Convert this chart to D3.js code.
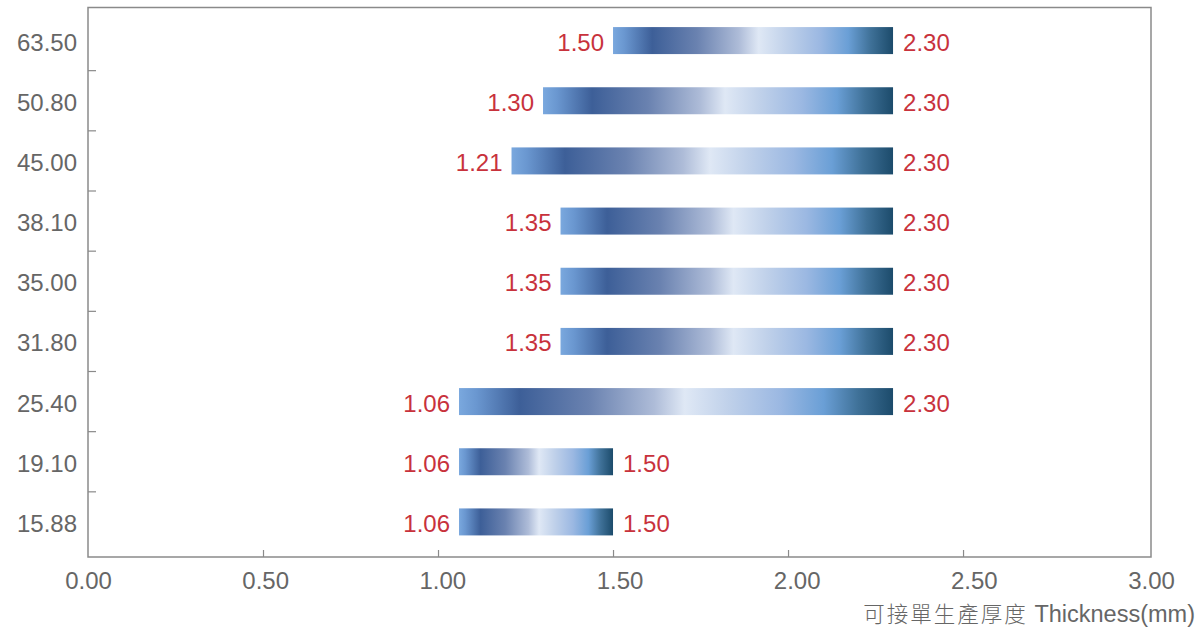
<!DOCTYPE html>
<html>
<head>
<meta charset="utf-8">
<script src="https://cdn.jsdelivr.net/npm/d3@7"></script>
<style>
  html, body { margin: 0; padding: 0; background: #fff; }
  svg { display: block; }
</style>
</head>
<body>
<svg id="chart" width="1201" height="633"></svg>
<script>
const categories = ["63.50", "50.80", "45.00", "38.10", "35.00", "31.80", "25.40", "19.10", "15.88"];
const minThickness = [1.50, 1.30, 1.21, 1.35, 1.35, 1.35, 1.06, 1.06, 1.06];
const maxThickness = [2.30, 2.30, 2.30, 2.30, 2.30, 2.30, 2.30, 1.50, 1.50];
const xTickValues = [0.5, 1.0, 1.5, 2.0, 2.5];
const xTickLabels = [0, 0.5, 1.0, 1.5, 2.0, 2.5, 3.0];
const axisTitleCJK = "可接單生產厚度";
const axisTitleLatin = " Thickness(mm)";

const svg = d3.select("#chart");
const box = { left: 88, right: 1151, top: 7.5, bottom: 557 };
const FONT = "'Liberation Sans', Arial, sans-serif";

const x = d3.scaleLinear().domain([0, 3.037]).range([box.left, box.right]);
const xLabel = d3.scaleLinear().domain([0, 3]).range([box.left, box.right]);
const y = d3.scaleBand().domain(categories).range([10.5, 552]).paddingInner(0).paddingOuter(0);
const barH = 27;

// gradient
const defs = svg.append("defs");
const grad = defs.append("linearGradient").attr("id", "barGrad")
  .attr("x1", "0%").attr("x2", "100%").attr("y1", "0%").attr("y2", "0%");
[
  [0, "#7aa8de"], [0.04, "#6a97d0"], [0.14, "#3d5f98"], [0.30, "#6a82b0"],
  [0.45, "#aebcd8"], [0.52, "#dfe8f5"], [0.62, "#c0d1ea"], [0.74, "#9bb8e2"],
  [0.84, "#6a9fd6"], [0.92, "#3f7198"], [1, "#1c4b6b"]
].forEach(([o, c]) => grad.append("stop").attr("offset", o).attr("stop-color", c));

// frame
svg.append("rect")
  .attr("x", box.left).attr("y", box.top)
  .attr("width", box.right - box.left).attr("height", box.bottom - box.top)
  .attr("fill", "none").attr("stroke", "#8a8a8a").attr("stroke-width", 1.5);

// x axis ticks (inner)
const xAxisTicks = svg.append("g").attr("transform", `translate(0,${box.bottom})`)
  .call(d3.axisBottom(x).tickValues(xTickValues).tickSize(-7).tickFormat(""));
xAxisTicks.select(".domain").remove();
xAxisTicks.selectAll("line").attr("stroke", "#8a8a8a").attr("stroke-width", 1.2);

// x axis labels
const xAxisLabels = svg.append("g").attr("transform", `translate(0,${box.bottom})`)
  .call(d3.axisBottom(xLabel).tickValues(xTickLabels).tickSize(0).tickPadding(0).tickFormat(d3.format(".2f")));
xAxisLabels.select(".domain").remove();
xAxisLabels.selectAll("text")
  .attr("y", 32).attr("dy", 0)
  .attr("fill", "#666").style("font-family", FONT).style("font-size", "24px");

// y axis ticks at band boundaries
const boundaries = categories.slice(1).map(c => y(c));
svg.append("g").selectAll("line").data(boundaries).join("line")
  .attr("x1", box.left).attr("x2", box.left + 8)
  .attr("y1", d => d).attr("y2", d => d)
  .attr("stroke", "#8a8a8a").attr("stroke-width", 1.2);

// y labels
svg.append("g").selectAll("text").data(categories).join("text")
  .attr("x", 77)
  .attr("y", d => y(d) + y.bandwidth() / 2 + 10)
  .attr("text-anchor", "end")
  .attr("fill", "#666")
  .style("font-family", FONT).style("font-size", "24px")
  .text(d => d);

const rows = categories.map((c, i) => ({ c, lo: minThickness[i], hi: maxThickness[i] }));

// bars
svg.append("g").selectAll("rect").data(rows).join("rect")
  .attr("x", d => x(d.lo))
  .attr("y", d => y(d.c) + y.bandwidth() / 2 - barH / 2)
  .attr("width", d => x(d.hi) - x(d.lo))
  .attr("height", barH)
  .attr("fill", "url(#barGrad)");

// value labels
const fmt = d3.format(".2f");
const lbl = svg.append("g").style("font-family", FONT).style("font-size", "24px").attr("fill", "#c8323c");
lbl.selectAll("text.lo").data(rows).join("text").attr("class", "lo")
  .attr("x", d => x(d.lo) - 9)
  .attr("y", d => y(d.c) + y.bandwidth() / 2 + 10)
  .attr("text-anchor", "end")
  .text(d => fmt(d.lo));
lbl.selectAll("text.hi").data(rows).join("text").attr("class", "hi")
  .attr("x", d => x(d.hi) + 10)
  .attr("y", d => y(d.c) + y.bandwidth() / 2 + 10)
  .attr("text-anchor", "start")
  .text(d => fmt(d.hi));

// axis title
const title = svg.append("text")
  .attr("x", 1195).attr("y", 622)
  .attr("text-anchor", "end")
  .attr("fill", "#666")
  .style("font-family", FONT).style("font-size", "23.5px");
title.append("tspan")
  .style("font-family", "'Noto Sans CJK TC', sans-serif").style("font-size", "21.5px")
  .style("font-weight", "300").style("letter-spacing", "2px")
  .text(axisTitleCJK);
title.append("tspan").text(axisTitleLatin);
</script>
</body>
</html>
